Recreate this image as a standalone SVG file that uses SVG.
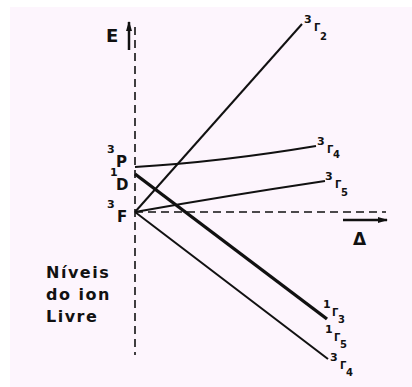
<svg xmlns="http://www.w3.org/2000/svg" width="412" height="387" viewBox="0 0 412 387">
<style>
.t{font-family:"DejaVu Sans","Liberation Sans",sans-serif;font-weight:bold;fill:#111}
.big{font-size:16px}
.lvl{font-size:15px}
.sup{font-size:11px}
.g{font-size:10px}
.ln{stroke:#111;fill:none;stroke-width:2}
.thick{stroke-width:3.4}
.dash{stroke:#111;fill:none;stroke-width:1.6;stroke-dasharray:8,5}
</style>
<defs>
<marker id="ah" markerWidth="10" markerHeight="8" refX="9" refY="4" orient="auto" markerUnits="userSpaceOnUse">
<path d="M0,1 L10,4 L0,7 Z" fill="#111"/>
</marker>
</defs>
<rect x="0" y="0" width="412" height="387" fill="#fff"/>
<rect x="10" y="7" width="402" height="380" fill="#fdf5fd"/>
<g id="connectors">
<line class="dash" x1="135" y1="27" x2="135" y2="355"/>
<line class="dash" x1="135" y1="212" x2="386" y2="212"/>
<line x1="129" y1="50" x2="129" y2="22" stroke="#111" stroke-width="2.5" marker-end="url(#ah)"/>
<line x1="343" y1="220" x2="387" y2="220" stroke="#111" stroke-width="2.5" marker-end="url(#ah)"/>
<path class="ln" d="M135,167 Q220,162 316,146"/>
<path class="ln" d="M135,212 Q225,196 325,181"/>
<line class="ln" x1="135" y1="212" x2="302" y2="24"/>
<line class="ln thick" x1="135" y1="174" x2="327" y2="319"/>
<line class="ln" x1="135" y1="212" x2="328" y2="359"/>
</g>
<g id="axisE"><text class="t" x="106" y="42" style="font-size:18px">E</text></g>
<g id="axisDelta"><text class="t" x="353" y="245" style="font-size:17px">Δ</text></g>
<g id="n3P"><text class="t sup" x="107" y="153">3</text><text class="t lvl" x="116" y="167">P</text></g>
<g id="n1D"><text class="t sup" x="110" y="176">1</text><text class="t lvl" x="116" y="190">D</text></g>
<g id="n3F"><text class="t sup" x="107" y="208">3</text><text class="t lvl" x="117" y="222">F</text></g>
<g id="g3G2"><text class="t sup" x="304" y="23">3</text><text class="t g" x="314" y="31">Γ</text><text class="t g" x="320" y="40">2</text></g>
<g id="g3G4a"><text class="t sup" x="317" y="145">3</text><text class="t g" x="327" y="153">Γ</text><text class="t g" x="333" y="158">4</text></g>
<g id="g3G5"><text class="t sup" x="325" y="180">3</text><text class="t g" x="335" y="188">Γ</text><text class="t g" x="341" y="196">5</text></g>
<g id="g1G3"><text class="t sup" x="323" y="308">1</text><text class="t g" x="332" y="316">Γ</text><text class="t g" x="338" y="323">3</text></g>
<g id="g1G5"><text class="t sup" x="325" y="333">1</text><text class="t g" x="334" y="341">Γ</text><text class="t g" x="340" y="348">5</text></g>
<g id="g3G4b"><text class="t sup" x="330" y="361">3</text><text class="t g" x="340" y="369">Γ</text><text class="t g" x="346" y="376">4</text></g>
<g id="label"><text class="t big" style="letter-spacing:1.5px" x="46" y="278">Níveis</text><text class="t big" style="letter-spacing:1.5px" x="46" y="300">do ion</text><text class="t big" style="letter-spacing:1.5px" x="46" y="322">Livre</text></g>
</svg>
